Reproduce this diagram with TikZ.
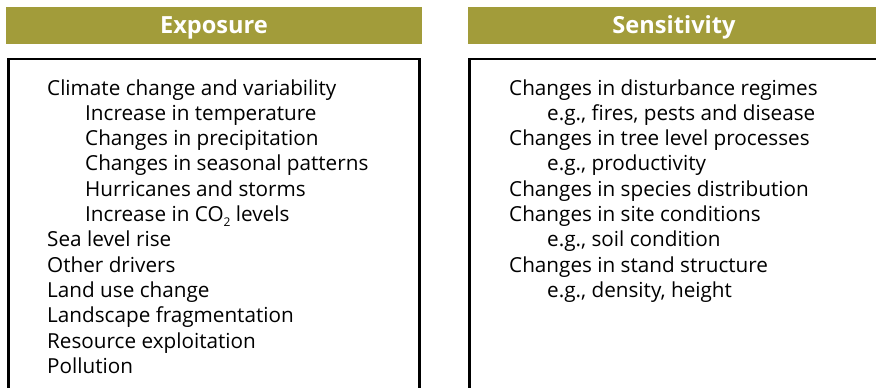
\documentclass[tikz,border=0pt]{standalone}
\usepackage{fontspec}
\setmainfont{Open Sans}
\definecolor{olive}{RGB}{162,156,58}
\begin{document}
\begin{tikzpicture}[x=1pt,y=-1pt,
  hdr/.style={fill=olive,draw=none,minimum height=37pt,inner sep=0pt,text height=17pt,text depth=0pt,text=white,font=\fontsize{23.6}{26}\selectfont\bfseries},
  panel/.style={draw=black,line width=2.5pt},
  txt/.style={anchor=base west,inner sep=0pt,font=\fontsize{20.7}{24}\selectfont}]
\useasboundingbox (0,0) rectangle (876,388);
\clip (0,0) rectangle (876,388);
\node[hdr,minimum width=416pt] (hexp) at (214,25.5) {Exposure};
\node[hdr,minimum width=412pt] (hsen) at (674,25.5) {Sensitivity};
\draw[panel] (8.5,400) -- (8.5,59) -- (419.5,59) -- (419.5,400);
\draw[panel] (469.5,400) -- (469.5,59) -- (890,59);
% left column
\node[txt] (e1) at (47,95) {Climate change and variability};
\node[txt] (e2) at (85,120.3) {Increase in temperature};
\node[txt] (e3) at (85,145.6) {Changes in precipitation};
\node[txt] (e4) at (85,170.9) {Changes in seasonal patterns};
\node[txt] (e5) at (85,196.2) {Hurricanes and storms};
\node[txt] (e6) at (85,221.5) {Increase in CO\raisebox{-0.45ex}{\fontsize{12}{12}\selectfont 2} levels};
\node[txt] (e7) at (47,246.8) {Sea level rise};
\node[txt] (e8) at (47,272.1) {Other drivers};
\node[txt] (e9) at (47,297.4) {Land use change};
\node[txt] (e10) at (47,322.7) {Landscape fragmentation};
\node[txt] (e11) at (47,348) {Resource exploitation};
\node[txt] (e12) at (47,373.3) {Pollution};
% right column
\node[txt] (s1) at (509,95) {Changes in disturbance regimes};
\node[txt] (s2) at (547,120.3) {e.g., fires, pests and disease};
\node[txt] (s3) at (509,145.6) {Changes in tree level processes};
\node[txt] (s4) at (547,170.9) {e.g., productivity};
\node[txt] (s5) at (509,196.2) {Changes in species distribution};
\node[txt] (s6) at (509,221.5) {Changes in site conditions};
\node[txt] (s7) at (547,246.8) {e.g., soil condition};
\node[txt] (s8) at (509,272.1) {Changes in stand structure};
\node[txt] (s9) at (547,297.4) {e.g., density, height};
\end{tikzpicture}
\end{document}
